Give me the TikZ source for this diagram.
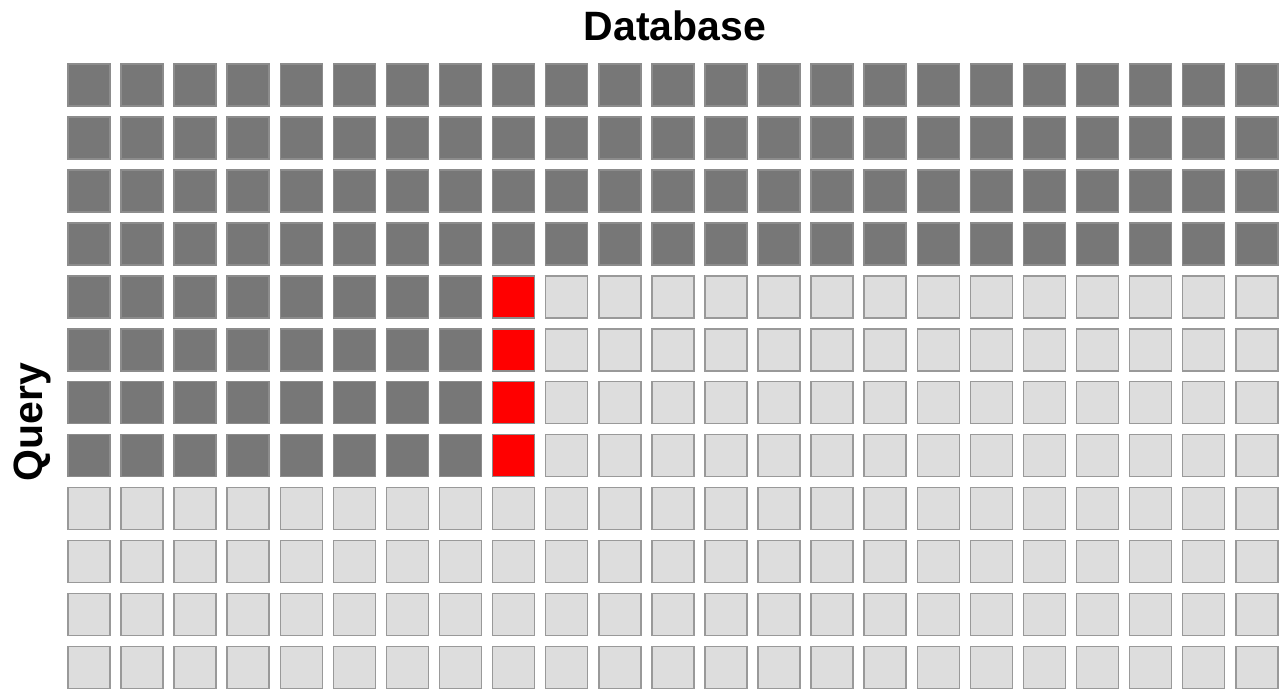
\documentclass[tikz,border=0pt]{standalone}
\usepackage{fontspec}
\setmainfont{Liberation Sans}
\definecolor{darkcell}{HTML}{777777}
\definecolor{darkedge}{HTML}{8C8C8C}
\definecolor{lightcell}{HTML}{DDDDDD}
\definecolor{lightedge}{HTML}{999999}
\definecolor{hitcell}{HTML}{FF0000}

\tikzset{
  cell/.style={draw, line width=1.5pt, minimum size=42pt, inner sep=0pt},
  done/.style={cell, fill=darkcell, draw=darkedge},
  todo/.style={cell, fill=lightcell, draw=lightedge},
  hit/.style={cell, fill=hitcell, draw=darkedge},
  axislabel/.style={font=\bfseries\fontsize{41}{41}\selectfont}
}

\begin{document}
\begin{tikzpicture}[x=1pt,y=-1pt]
\useasboundingbox (0,0) rectangle (1288,699);

% labels
\node[axislabel, anchor=base] (database) at (675,40) {Database};
\node[axislabel, anchor=base, rotate=90] (query) at (42,422) {Query};

% rows 1-4: finished
\foreach \row in {0,...,3}
  \foreach \col in {0,...,22}
    \node[done] (c-\row-\col) at (89+53.08*\col, 85+52.95*\row) {};

% rows 5-8: finished part, current column, rest
\foreach \row in {4,...,7} {
  \foreach \col in {0,...,7}
    \node[done] (c-\row-\col) at (89+53.08*\col, 85+52.95*\row) {};
  \node[hit] (c-\row-8) at (89+53.08*8, 85+52.95*\row) {};
  \foreach \col in {9,...,22}
    \node[todo] (c-\row-\col) at (89+53.08*\col, 85+52.95*\row) {};
}

% rows 9-12: not started
\foreach \row in {8,...,11}
  \foreach \col in {0,...,22}
    \node[todo] (c-\row-\col) at (89+53.08*\col, 85+52.95*\row) {};

\end{tikzpicture}
\end{document}
